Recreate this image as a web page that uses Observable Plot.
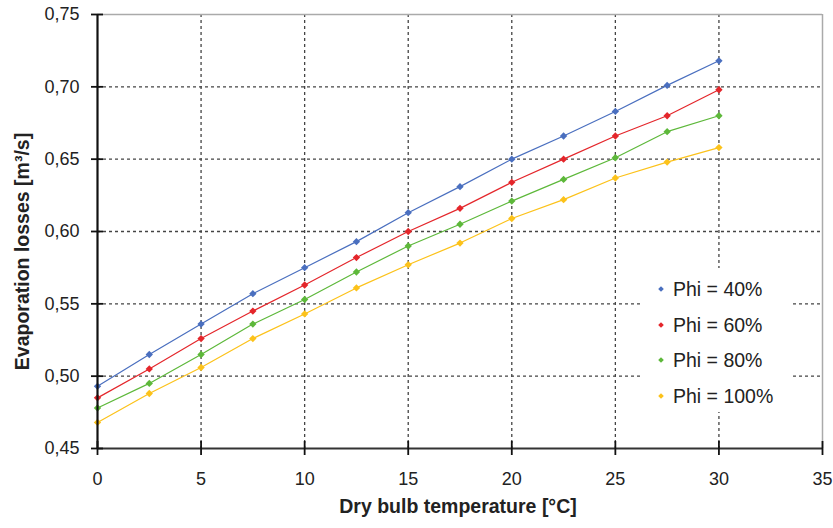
<!DOCTYPE html>
<html>
<head>
<meta charset="utf-8">
<script src="https://cdn.jsdelivr.net/npm/d3@7"></script>
<script src="https://cdn.jsdelivr.net/npm/@observablehq/plot@0.6"></script>
<style>
  html, body { margin: 0; padding: 0; background: #fff; }
  #wrap { position: relative; width: 833px; height: 528px; font-family: "Liberation Sans", Arial, sans-serif; }
  #legend { position: absolute; left: 640px; top: 268px; width: 152px; height: 144px; background: #fff; color: #222; font-size: 19.5px; }
  #legend .row { position: absolute; left: 0; height: 24px; line-height: 24px; white-space: nowrap; }
  #legend .sym { position: absolute; left: 19px; top: 10px; width: 4px; height: 4px; transform: rotate(45deg); }
  #legend .lab { position: absolute; left: 33px; top: 0; }
</style>
</head>
<body>
<div id="wrap"></div>
<script>
const temperatures = [0, 2.5, 5, 7.5, 10, 12.5, 15, 17.5, 20, 22.5, 25, 27.5, 30];
const seriesNames = ["Phi = 40%", "Phi = 60%", "Phi = 80%", "Phi = 100%"];
const seriesColors = ["#4a6fbf", "#e4262b", "#5db83a", "#fcc21a"];
const phi40 = [0.493, 0.515, 0.536, 0.557, 0.575, 0.593, 0.613, 0.631, 0.650, 0.666, 0.683, 0.701, 0.718];
const phi60 = [0.485, 0.505, 0.526, 0.545, 0.563, 0.582, 0.600, 0.616, 0.634, 0.650, 0.666, 0.680, 0.698];
const phi80 = [0.478, 0.495, 0.515, 0.536, 0.553, 0.572, 0.590, 0.605, 0.621, 0.636, 0.651, 0.669, 0.680];
const phi100 = [0.468, 0.488, 0.506, 0.526, 0.543, 0.561, 0.577, 0.592, 0.609, 0.622, 0.637, 0.648, 0.658];
const xTicks = [0, 5, 10, 15, 20, 25, 30, 35];
const yTicks = [0.45, 0.50, 0.55, 0.60, 0.65, 0.70, 0.75];
const xGrid = [5, 10, 15, 20, 25, 30];
const yGrid = [0.50, 0.55, 0.60, 0.65, 0.70];
const xTitle = "Dry bulb temperature [°C]";
const yTitle = "Evaporation losses [m³/s]";

const allSeries = [phi40, phi60, phi80, phi100];
const data = [];
allSeries.forEach((vals, i) => vals.forEach((v, j) => data.push({series: seriesNames[i], t: temperatures[j], v})));

const fmtY = d => d3.format(".2f")(d).replace(".", ",");

const chart = Plot.plot({
  width: 833,
  height: 528,
  marginLeft: 97,
  marginRight: 11,
  marginTop: 14,
  marginBottom: 80,
  style: {fontFamily: "'Liberation Sans', Arial, sans-serif", color: "#222", background: "#fff"},
  x: {domain: [0, 35]},
  y: {domain: [0.45, 0.75]},
  color: {domain: seriesNames, range: seriesColors},
  marks: [
    Plot.ruleX(xGrid, {stroke: "#444", strokeWidth: 1.3, strokeDasharray: "3,3"}),
    Plot.ruleY(yGrid, {stroke: "#444", strokeWidth: 1.3, strokeDasharray: "3,3"}),
    Plot.ruleY([0.75], {stroke: "#aaa", strokeWidth: 1.5}),
    Plot.ruleX([35], {stroke: "#aaa", strokeWidth: 1.5}),
    Plot.line(data, {x: "t", y: "v", stroke: "series", strokeWidth: 1.2}),
    Plot.dot(data, {x: "t", y: "v", fill: "series", symbol: "diamond2", r: 3.3}),
    Plot.ruleX([0], {stroke: "#111", strokeWidth: 2.2}),
    Plot.ruleY([0.45], {stroke: "#333", strokeWidth: 2.2}),
    Plot.axisY({ticks: yTicks, tickFormat: fmtY, tickSize: 12, dx: 6, tickPadding: 12, stroke: "#111", strokeWidth: 1.8, fontSize: 18, label: null}),
    Plot.axisX({ticks: xTicks, tickFormat: d => String(d), tickSize: 14, dy: -7, tickPadding: 17, stroke: "#111", strokeWidth: 1.8, fontSize: 18, label: null}),
    Plot.text([xTitle], {frameAnchor: "bottom", dy: 64, fontSize: 19.5, fontWeight: "bold", fill: "#222", dx: -2}),
    Plot.text([yTitle], {frameAnchor: "left", textAnchor: "middle", rotate: -90, dx: -75, dy: 20, fontSize: 19.5, fontWeight: "bold", fill: "#222"})
  ]
});

const wrap = document.getElementById("wrap");
wrap.appendChild(chart);

const legend = document.createElement("div");
legend.id = "legend";
seriesNames.forEach((name, i) => {
  const row = document.createElement("div");
  row.className = "row";
  row.style.top = (9 + i * 35.7) + "px";
  const sym = document.createElement("div");
  sym.className = "sym";
  sym.style.background = seriesColors[i];
  const lab = document.createElement("div");
  lab.className = "lab";
  lab.textContent = name;
  row.appendChild(sym);
  row.appendChild(lab);
  legend.appendChild(row);
});
wrap.appendChild(legend);
</script>
</body>
</html>
